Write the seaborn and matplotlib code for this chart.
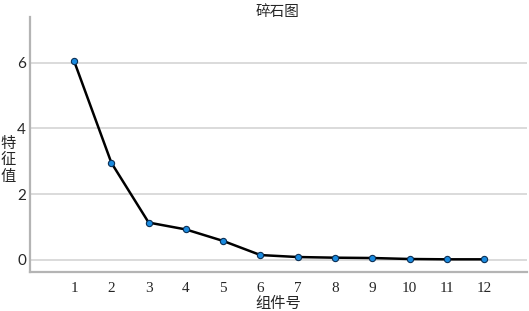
import numpy as np
import pandas as pd
import matplotlib
matplotlib.use('Agg')
import matplotlib.pyplot as plt
import seaborn as sns

# --- data ---
components = [1, 2, 3, 4, 5, 6, 7, 8, 9, 10, 11, 12]
eigenvalues = [6.05, 2.95, 1.13, 0.92, 0.57, 0.14, 0.08, 0.06, 0.05, 0.02, 0.01, 0.01]
y_ticks = [0, 2, 4, 6]

title = '碎石图'
x_label = '组件号'
y_label = '特\n征\n值'

sns.set_style('white')
plt.rcParams['font.family'] = ['Liberation Serif', 'Noto Sans CJK SC', 'DejaVu Sans']

df = pd.DataFrame({'component': components, 'eigenvalue': eigenvalues})

fig = plt.figure(figsize=(5.29, 3.11), dpi=100)
ax = fig.add_axes([0.057, 0.125, 0.939, 0.82])

sns.lineplot(data=df, x='component', y='eigenvalue', ax=ax, color='black',
             linewidth=1.8, marker='o', markersize=4.5,
             markerfacecolor='#1a8be0', markeredgecolor='#0b2f55', markeredgewidth=0.8)

ax.set_xlim(-0.18, 13.15)
ax.set_ylim(-0.38, 7.39)
ax.set_xticks(components)
ax.set_yticks(y_ticks)
ax.tick_params(axis='x', length=0, labelsize=11, pad=7)
ax.tick_params(axis='y', length=0, labelsize=11, pad=3)
for lbl in ax.get_yticklabels():
    lbl.set_family(['Lato', 'DejaVu Sans'])
ax.yaxis.grid(True, color='#d4d4d4', linewidth=1.2)
ax.set_axisbelow(True)

for side in ['top', 'right']:
    ax.spines[side].set_visible(False)
for side in ['left', 'bottom']:
    ax.spines[side].set_color('#b4b4b4')
    ax.spines[side].set_linewidth(1.6)

ax.set_xlabel(x_label, fontsize=11, family=['Noto Sans CJK SC'], va='center')
ax.xaxis.set_label_coords(0.5, -0.122)
ax.set_ylabel(y_label, fontsize=11, family=['Noto Sans CJK SC'], rotation=0,
              linespacing=0.95, va='center')
ax.yaxis.set_label_coords(-0.045, 0.44)
fig.text(0.525, 0.962, title, ha='center', va='center', fontsize=10.5,
         family=['Noto Sans CJK SC'])

fig.savefig('out.png', dpi=100)
